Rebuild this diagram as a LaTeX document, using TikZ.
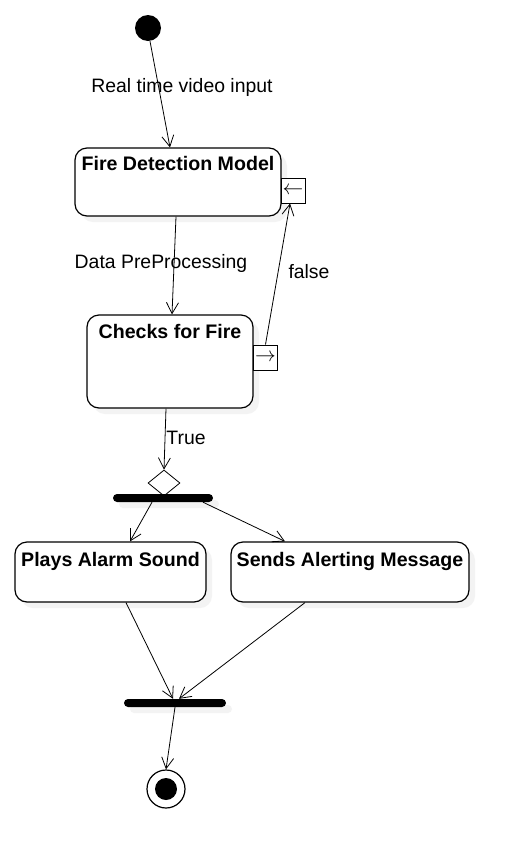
\documentclass[tikz,border=0pt]{standalone}
\usepackage{fontspec}
\setmainfont{Liberation Sans}
\usetikzlibrary{arrows.meta,shapes.geometric,shadows}
\begin{document}
\begin{tikzpicture}[x=1pt,y=-1pt,
        font=\fontsize{19.4}{23}\selectfont,
        act/.style={draw,line width=1.2pt,rounded corners=12pt,fill=white,inner sep=0pt,
            drop shadow={shadow xshift=6pt,shadow yshift=-6pt,fill=black!9}},
        acttext/.style={font=\fontsize{19.6}{23}\selectfont\bfseries,anchor=north,yshift=-10pt,inner sep=0pt},
        pinbox/.style={draw,line width=1pt,fill=white,inner sep=0pt,minimum width=24pt,minimum height=25pt,
            font=\fontsize{20}{24}\selectfont},
        bar/.style={fill=black,rounded corners=4pt,minimum width=100pt,minimum height=8pt,inner sep=0pt,
            drop shadow={shadow xshift=6pt,shadow yshift=-6pt,fill=black!9}},
        init/.style={circle,fill=black,minimum size=26pt,inner sep=0pt},
        decision/.style={diamond,draw,line width=0.8pt,fill=white,inner sep=0pt,minimum width=32pt,minimum height=26pt},
        final/.style={circle,draw,line width=1.2pt,fill=white,minimum size=38pt,inner sep=0pt,
            path picture={\fill[black] (path picture bounding box.center) circle (11pt);}},
        flow/.style={line width=0.8pt,-{Straight Barb[length=11pt,width=12pt]}}]
        \useasboundingbox[fill=white] (0,0) rectangle (529,868);
        \node[init] (start) at (148,28) {};
        \node[act,minimum width=206pt,minimum height=68pt,label={[acttext,yshift=1pt]north:Fire Detection Model}] (detect) at (178,182) {};
        \node[pinbox] (detectpin) at (293,190.5) {$\leftarrow$};
        \node[act,minimum width=166pt,minimum height=93pt,label={[acttext]north:Checks for Fire}] (checks) at (170,361.5) {};
        \node[pinbox] (checkspin) at (265.5,357.5) {$\rightarrow$};
        \node[decision] (branch) at (164,483) {};
        \node[bar] (fork) at (163,498) {};
        \node[act,minimum width=191pt,minimum height=60pt,label={[acttext,yshift=-1pt]north:Plays Alarm Sound}] (plays) at (110.5,572) {};
        \node[act,minimum width=238pt,minimum height=60pt,label={[acttext,yshift=-1pt]north:Sends Alerting Message}] (sends) at (350,572) {};
        \node[bar,minimum width=102pt] (join) at (175,703) {};
        \node[final] (end) at (166,789) {};
        \node (inputlabel) at (182,87) {Real time video input};
        \node (preplabel) at (161,263) {Data PreProcessing};
        \node (falselabel) at (309,272) {false};
        \node (truelabel) at (186,438) {True};
        \draw[flow] ([xshift=2pt]start.south) -- ([xshift=-8pt]detect.north);
        \draw[flow] ([xshift=-2pt]detect.south) -- ([xshift=2pt]checks.north);
        \draw[flow] (checkspin.north) -- ([xshift=-3pt]detectpin.south);
        \draw[flow] ([xshift=-4pt]checks.south) -- (branch.north);
        \draw[flow] ([xshift=-11pt]fork.south) -- ([xshift=19.5pt]plays.north);
        \draw[flow] ([xshift=40pt]fork.south) -- ([xshift=-65pt]sends.north);
        \draw[flow] ([xshift=15.5pt]plays.south) -- ([xshift=-2pt]join.north);
        \draw[flow] ([xshift=-45pt]sends.south) -- ([xshift=4pt]join.north);
        \draw[flow] (join.south) -- (end.north);
\end{tikzpicture}
\end{document}
